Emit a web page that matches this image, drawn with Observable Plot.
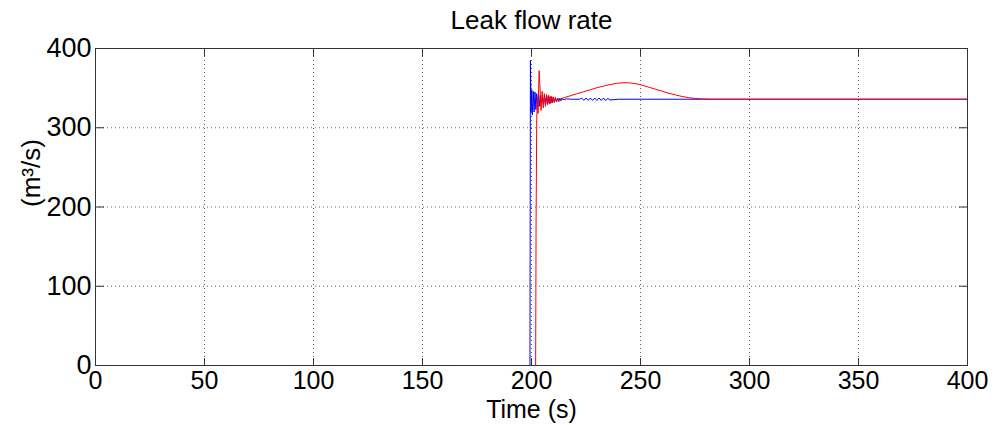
<!DOCTYPE html>
<html>
<head>
<meta charset="utf-8">
<script src="https://cdn.jsdelivr.net/npm/d3@7"></script>
<script src="https://cdn.jsdelivr.net/npm/@observablehq/plot@0.6"></script>
<style>
  html, body { margin: 0; padding: 0; background: #fff; }
  svg { display: block; }
</style>
</head>
<body>
<div id="chart"></div>
<script>
const title = "Leak flow rate";
const xLabel = "Time (s)";
const yLabel = "(m³/s)";
const xTicks = [0, 50, 100, 150, 200, 250, 300, 350, 400];
const yTicks = [0, 100, 200, 300, 400];

// Blue series: time (s) and flow (m3/s)
const blueT = [0, 199.3, 199.5, 199.8, 200.1, 200.4, 200.8, 201.2, 201.6, 202.0, 202.4, 202.8, 203.2, 203.6, 204.0, 204.5, 205.0, 205.5, 206.0, 206.5, 207.0, 207.5, 208.0, 208.5, 209.0, 209.5, 210.0, 210.5, 211.0, 211.5, 212.0, 212.5, 213.0, 213.5, 214.0, 215, 216, 218, 222, 223, 224, 225, 226, 227, 228, 229, 230, 231, 232, 233, 234, 235, 236, 240, 300, 400];
const blueV = [0, 0, 385, 320, 348, 316, 346, 320, 345, 323, 343, 326, 342, 327, 341, 328, 341, 329, 340, 330, 340, 331, 339, 331, 339, 332, 338, 332, 338, 333, 337, 333, 337, 334, 336.5, 335.5, 336.5, 336, 336, 337.5, 334.5, 337.5, 334.5, 337.5, 334.5, 337.5, 334.5, 337.5, 334.5, 337.5, 334.5, 337, 335, 336, 336, 336];

// Red series: time (s) and flow (m3/s)
const redT = [0, 201.9, 202.1, 202.4, 202.7, 203.0, 203.5, 204.0, 204.4, 204.9, 205.4, 205.9, 206.4, 206.9, 207.4, 207.9, 208.4, 208.9, 209.4, 209.9, 210.4, 210.9, 211.4, 212, 213, 215, 218, 221, 224, 227, 230, 233, 236, 239, 242, 245, 248, 251, 254, 257, 260, 263, 266, 269, 272, 275, 278, 282, 290, 400];
const redV = [0, 0, 180, 310, 338, 318, 372, 345, 322, 346, 325, 343, 327, 342, 329, 341, 330, 340, 331, 339, 332, 338, 333, 337, 336, 338, 340.5, 343, 345.5, 348, 350.5, 352.5, 354.5, 356, 356.8, 356.7, 355.5, 353.5, 351, 348.5, 346, 343.5, 341.5, 339.5, 338, 337, 336.5, 336, 336, 336];

const blue = blueT.map((t, i) => ({t, v: blueV[i]}));
const red = redT.map((t, i) => ({t, v: redV[i]}));

const font = "'Liberation Sans', Arial, Helvetica, sans-serif";
const axisColor = "#333";
const noText = () => "";

const chart = Plot.plot({
  width: 996,
  height: 425,
  marginLeft: 95,
  marginRight: 29,
  marginTop: 48,
  marginBottom: 60,
  style: {fontFamily: font, background: "#fff", color: "#000", overflow: "visible"},
  x: {domain: [0, 400]},
  y: {domain: [0, 400]},
  marks: [
    Plot.gridX(xTicks, {stroke: "#000", strokeOpacity: 0.6, strokeDasharray: "1,3"}),
    Plot.gridY(yTicks, {stroke: "#000", strokeOpacity: 0.6, strokeDasharray: "1,3"}),
    Plot.line(blue, {x: "t", y: "v", stroke: "#0000ff", strokeWidth: 1}),
    Plot.line(red, {x: "t", y: "v", stroke: "#ff0000", strokeWidth: 1}),
    Plot.frame({stroke: axisColor}),
    // tick labels
    Plot.axisX(xTicks, {anchor: "bottom", tickSize: 0, tickPadding: 6, fontSize: 25, label: null, fill: "#000"}),
    Plot.axisY(yTicks, {anchor: "left", tickSize: 0, tickPadding: 4, fontSize: 27, label: null, fill: "#000"}),
    // inward tick marks on all four sides
    Plot.axisX(xTicks, {anchor: "top", frameAnchor: "bottom", tickSize: 8, tickFormat: noText, label: null, stroke: axisColor}),
    Plot.axisX(xTicks, {anchor: "bottom", frameAnchor: "top", tickSize: 8, tickFormat: noText, label: null, stroke: axisColor}),
    Plot.axisY(yTicks, {anchor: "right", frameAnchor: "left", tickSize: 8, tickFormat: noText, label: null, stroke: axisColor}),
    Plot.axisY(yTicks, {anchor: "left", frameAnchor: "right", tickSize: 8, tickFormat: noText, label: null, stroke: axisColor}),
    Plot.text([title], {frameAnchor: "top", dy: -38, fontSize: 26, text: d => d, fill: "#000"}),
    Plot.text([xLabel], {frameAnchor: "bottom", dy: 52, fontSize: 25, text: d => d, fill: "#000"}),
    Plot.text([yLabel], {frameAnchor: "left", dx: -64, rotate: -90, fontSize: 26, text: d => d, fill: "#000"})
  ]
});
document.getElementById("chart").appendChild(chart);
</script>
</body>
</html>
